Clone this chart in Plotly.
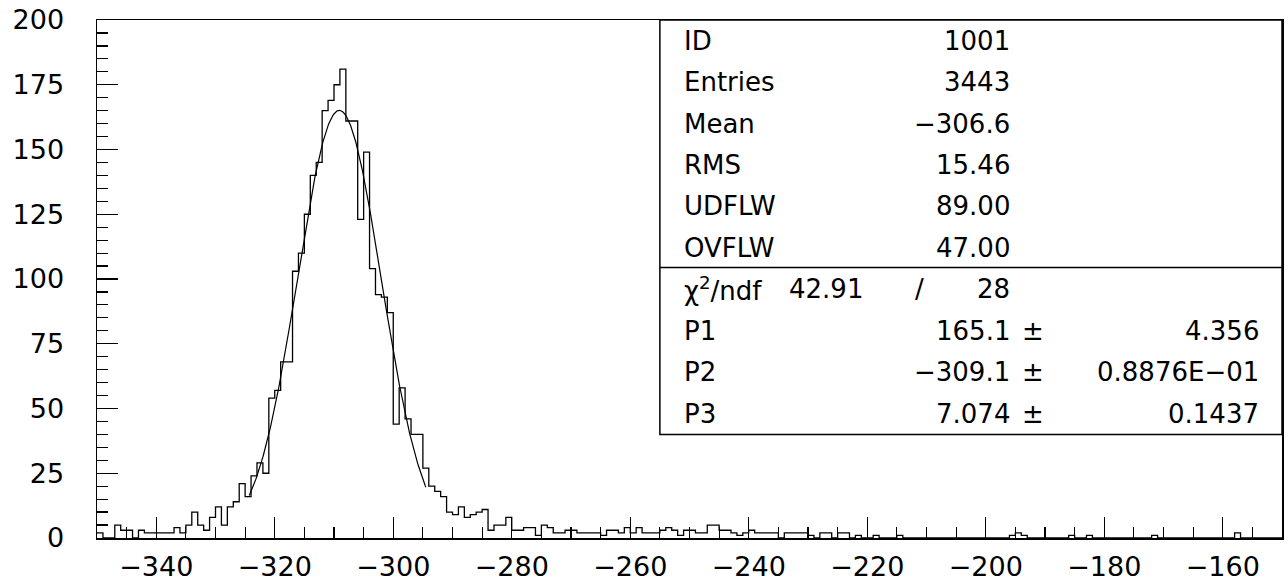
import plotly.graph_objects as go
import math

# ---------------- data ----------------
bin_low = -350.0
bin_width = 1.0
counts = [
    # -350 .. -331
    2, 0, 0, 5, 3, 3, 0, 3, 2, 2, 2, 2, 2, 4, 2, 5, 10, 5, 3, 8,
    # -330 .. -311
    12, 5, 12, 14, 21, 16, 24, 29, 25, 54, 57, 68, 68, 103, 110, 125, 140, 145, 165, 169,
    # -310 .. -291
    175, 181, 161, 161, 123, 149, 104, 94, 93, 87, 44, 58, 46, 40, 40, 27, 20, 18, 16, 10,
    # -290 .. -271
    9, 12, 8, 9, 10, 11, 3, 5, 5, 8, 3, 3, 4, 4, 1, 5, 4, 2, 2, 3,
    # -270 .. -251
    3, 2, 2, 2, 2, 1, 3, 3, 2, 4, 2, 4, 2, 2, 2, 3, 4, 3, 1, 3,
    # -250 .. -231
    3, 2, 2, 5, 5, 3, 3, 2, 1, 2, 3, 2, 2, 2, 2, 0, 2, 2, 2, 2,
    # -230 .. -211
    1, 0, 2, 2, 0, 2, 2, 0, 1, 0, 0, 1, 0, 0, 0, 1, 0, 0, 0, 0,
    # -210 .. -191
    0, 0, 0, 0, 0, 0, 0, 0, 0, 0, 0, 0, 0, 0, 1, 2, 1, 0, 0, 0,
    # -190 .. -171
    0, 0, 0, 0, 1, 0, 0, 1, 0, 0, 0, 0, 0, 0, 0, 0, 0, 0, 1, 0,
    # -170 .. -151
    0, 0, 0, 0, 0, 0, 0, 0, 0, 0, 0, 0, 2, 0, 0, 0, 0, 0, 0, 0,
]

# Gaussian fit parameters shown in the stats box
P1, P2, P3 = 165.1, -309.1, 7.074
fit_range = (-324.3, -294.5)

x_tick_vals = [-340, -320, -300, -280, -260, -240, -220, -200, -180, -160]
x_tick_text = ["−340", "−320", "−300", "−280", "−260", "−240", "−220", "−200", "−180", "−160"]
y_tick_vals = [0, 25, 50, 75, 100, 125, 150, 175, 200]
y_tick_text = ["0", "25", "50", "75", "100", "125", "150", "175", "200"]

stats_labels = ["ID", "Entries", "Mean", "RMS", "UDFLW", "OVFLW"]
stats_values = ["1001", "3443", "−306.6", "15.46", "89.00", "47.00"]
chi2_label = "χ<sup>2</sup>/ndf"
chi2_value = "42.91"
ndf_text = "28"
fit_labels = ["P1", "P2", "P3"]
fit_values = ["165.1", "−309.1", "7.074"]
fit_errors = ["4.356", "0.8876E−01", "0.1437"]

# ---------------- figure ----------------
n = len(counts)
edges = [bin_low + i * bin_width for i in range(n + 1)]
hx = edges[:]
hy = counts + [counts[-1]]

FONT = "DejaVu Sans"

fig = go.Figure()
fig.add_trace(go.Scatter(x=hx, y=hy, mode="lines", line=dict(shape="hv", color="black", width=1.3),
                         hoverinfo="skip", showlegend=False))

nf = 300
fx = [fit_range[0] + (fit_range[1] - fit_range[0]) * i / (nf - 1) for i in range(nf)]
fy = [P1 * math.exp(-0.5 * ((v - P2) / P3) ** 2) for v in fx]
fig.add_trace(go.Scatter(x=fx, y=fy, mode="lines", line=dict(color="black", width=1.2),
                         hoverinfo="skip", showlegend=False))

# stats box (in data coordinates)
box_x0, box_x1, box_y0, box_y1, box_mid = -255.0, -150.0, 40.0, 200.0, 104.4
fig.add_shape(type="rect", x0=box_x0, x1=box_x1, y0=box_y0, y1=box_y1, xref="x", yref="y",
              line=dict(color="black", width=1.5), fillcolor="white", layer="above")
fig.add_shape(type="line", x0=box_x0, x1=box_x1, y0=box_mid, y1=box_mid, xref="x", yref="y",
              line=dict(color="black", width=1.5), layer="above")

row_top, row_step = 192.0, 16.0
lab_x, val_x, pm_x, err_x, slash_x, chi_x = -251.2, -195.6, -192.0, -153.6, -211.2, -220.3
tfont = dict(family=FONT, size=26, color="black")

def ann(x, y, text, anchor):
    fig.add_annotation(x=x, y=y, xref="x", yref="y", text=text, showarrow=False,
                       xanchor=anchor, yanchor="middle", font=tfont)

for i, (lab, val) in enumerate(zip(stats_labels, stats_values)):
    yy = row_top - i * row_step
    ann(lab_x, yy, lab, "left")
    ann(val_x, yy, val, "right")

ychi = row_top - 6 * row_step
ann(lab_x, ychi, chi2_label, "left")
ann(chi_x, ychi, chi2_value, "right")
ann(slash_x, ychi, "/", "center")
ann(val_x, ychi, ndf_text, "right")
for i, (lab, val, err) in enumerate(zip(fit_labels, fit_values, fit_errors)):
    yy = row_top - (7 + i) * row_step
    ann(lab_x, yy, lab, "left")
    ann(val_x, yy, val, "right")
    ann(pm_x, yy, "±", "center")
    ann(err_x, yy, err, "right")

axfont = dict(family=FONT, size=27, color="black")
fig.update_layout(
    width=1288, height=583,
    margin=dict(l=97, r=6, t=20, b=45, autoexpand=False),
    paper_bgcolor="white", plot_bgcolor="white",
    showlegend=False,
    xaxis=dict(range=[-350, -150], showgrid=False, zeroline=False, automargin=False,
               showline=True, linecolor="black", linewidth=1.5, mirror=True,
               ticks="inside", ticklen=21, tickwidth=1.2, tickcolor="black",
               tickvals=x_tick_vals, ticktext=x_tick_text, tickfont=axfont,
               ticklabelstandoff=4, ticklabeloverflow="allow",
               minor=dict(dtick=5, tick0=0, ticks="inside", ticklen=11, tickwidth=1.2, tickcolor="black")),
    yaxis=dict(range=[0, 200], showgrid=False, zeroline=False, automargin=False,
               showline=True, linecolor="black", linewidth=1.5, mirror=True,
               ticks="inside", ticklen=21, tickwidth=1.2, tickcolor="black",
               tickvals=y_tick_vals, ticktext=y_tick_text, tickfont=axfont,
               ticklabelstandoff=26, ticklabeloverflow="allow",
               minor=dict(dtick=5, tick0=0, ticks="inside", ticklen=11, tickwidth=1.2, tickcolor="black")),
)

fig.write_html("out.html",
               config={"displayModeBar": False, "staticPlot": True},
               post_script="document.body.style.margin='0';document.body.style.overflow='hidden';")
